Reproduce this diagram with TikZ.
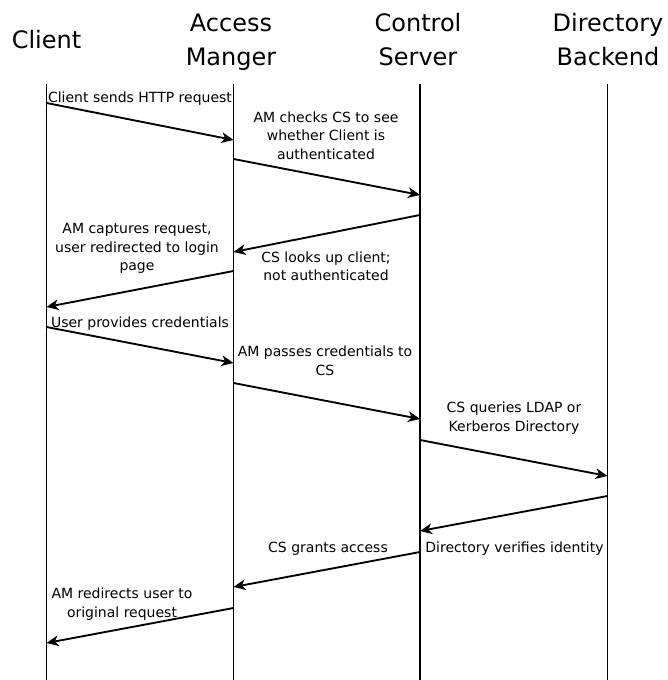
\documentclass[tikz,border=0pt]{standalone}
\usepackage{fontspec}
\setmainfont{DejaVu Sans}
\usetikzlibrary{arrows.meta}
\begin{document}
\begin{tikzpicture}[x=0.75pt,y=-0.75pt,
  lifeline/.style={line width=1.1pt},
  msg/.style={line width=1.4pt,-{Stealth[length=9pt,width=8pt,inset=2.6pt]}},
  title/.style={font=\fontsize{18pt}{25.5pt}\selectfont,align=center,anchor=base,inner sep=0pt},
  lbl/.style={font=\fontsize{10.5pt}{13.9pt}\selectfont,align=center,anchor=base,inner sep=0pt}]
\useasboundingbox (0,0) rectangle (667,680);
% titles (anchor = baseline of the last line)
\node[title] (tcl) at (46.5,49) {Client};
\node[title] (tam) at (231,66) {Access\\Manger};
\node[title] (tcs) at (418,66) {Control\\Server};
\node[title] (tdb) at (608,66) {Directory\\Backend};
% lifelines
\coordinate (cl0) at (46.5,84);  \coordinate (cl1) at (46.5,680);
\coordinate (am0) at (233.5,84); \coordinate (am1) at (233.5,680);
\coordinate (cs0) at (420,84);   \coordinate (cs1) at (420,680);
\coordinate (db0) at (607.5,84); \coordinate (db1) at (607.5,680);
\draw[lifeline] (cl0) -- (cl1);
\draw[lifeline] (am0) -- (am1);
\draw[lifeline] (cs0) -- (cs1);
\draw[lifeline] (db0) -- (db1);
% message end points
\coordinate (m1s) at (46.5,103);  \coordinate (m1e) at (233.5,140);
\coordinate (m2s) at (233.5,159); \coordinate (m2e) at (420,195);
\coordinate (m3s) at (420,215);   \coordinate (m3e) at (233.5,252);
\coordinate (m4s) at (233.5,271); \coordinate (m4e) at (46.5,307);
\coordinate (m5s) at (46.5,327);  \coordinate (m5e) at (233.5,363);
\coordinate (m6s) at (233.5,383); \coordinate (m6e) at (420,419);
\coordinate (m7s) at (420,440);   \coordinate (m7e) at (607.5,476);
\coordinate (m8s) at (607.5,496); \coordinate (m8e) at (420,531);
\coordinate (m9s) at (420,552);   \coordinate (m9e) at (233.5,587);
\coordinate (m10s) at (233.5,608); \coordinate (m10e) at (46.5,643);
\foreach \i in {1,...,10} {\draw[msg] (m\i s) -- (m\i e);}
% labels (anchor = baseline of the last line)
\node[lbl] (l1) at (140,103) {Client sends HTTP request};
\node[lbl] (l2) at (326,159.5) {AM checks CS to see\\whether Client is\\authenticated};
\node[lbl] (l3) at (326,281) {CS looks up client;\\not authenticated};
\node[lbl] (l4) at (137,271) {AM captures request,\\user redirected to login\\page};
\node[lbl] (l5) at (140,327) {User provides credentials};
\node[lbl] (l6) at (325,375) {AM passes credentials to\\CS};
\node[lbl] (l7) at (514,431) {CS queries LDAP or\\Kerberos Directory};
\node[lbl] (l8) at (514.5,552) {Directory verifies identity};
\node[lbl] (l9) at (328,552) {CS grants access};
\node[lbl] (l10) at (122,617) {AM redirects user to\\original request};
\end{tikzpicture}
\end{document}
